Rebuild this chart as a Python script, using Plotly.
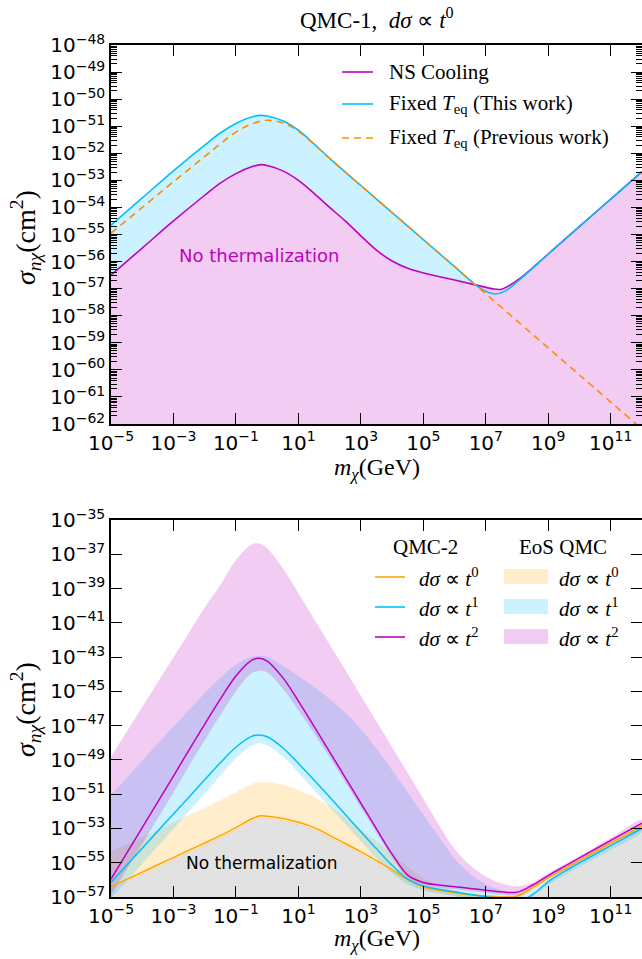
import plotly.graph_objects as go

W, H = 642, 959

# ---------------- Upper panel: QMC-1, dσ ∝ t^0 (log10 m[GeV], log10 σ[cm^2]) ----------------
cool_m = [-5, -4, -3, -2, -1.5, -1, -0.5, -0.2, 0, 0.5, 1, 1.5, 2, 2.5, 3, 3.5, 4, 4.5, 5, 6, 6.7, 7.2, 7.5, 8, 9, 10, 11, 12]
cool_s = [-56.5, -55.5, -54.5, -53.55, -53.1, -52.75, -52.5, -52.42, -52.45, -52.65, -53.0, -53.48, -54.0, -54.5,
          -55.05, -55.58, -55.98, -56.25, -56.42, -56.68, -56.87, -57.0, -57.02, -56.7, -55.72, -54.7, -53.69, -52.68]

teq_m = [-5, -4, -3, -2, -1.5, -1, -0.5, -0.2, 0, 0.5, 1, 1.5, 2, 3, 4, 5, 6, 6.7, 7, 7.3, 7.6, 8, 9, 10, 11, 12]
teq_s = [-54.65, -53.65, -52.65, -51.7, -51.25, -50.9, -50.66, -50.6, -50.62, -50.8, -51.15, -51.65, -52.19, -53.19,
         -54.19, -55.19, -56.19, -56.89, -57.1, -57.2, -57.1, -56.75, -55.72, -54.7, -53.69, -52.68]

prev_m = [-5, -4, -3, -2, -1.5, -1, -0.5, 0, 0.5, 1, 1.5, 2, 4, 6, 8, 10, 12.3]
prev_s = [-54.95, -54.0, -53.05, -52.12, -51.65, -51.22, -50.92, -50.78, -50.88, -51.18, -51.67, -52.19, -54.19,
          -56.19, -58.19, -60.19, -62.49]

# ---------------- Lower panel (log10 m grid shared by lines and bands) ----------------
low_m = [-5, -4.5, -4, -3.5, -3, -2.5, -2, -1.5, -1, -0.5, -0.25, 0, 0.5, 1, 1.5, 2, 2.5, 3, 3.5, 4, 4.5, 5,
         5.5, 6, 6.5, 7, 7.5, 8, 8.5, 9, 9.5, 10, 11, 12]

# QMC-2 lines
q0_s = [-56.39, -55.97, -55.55, -55.12, -54.7, -54.27, -53.85, -53.42, -52.95, -52.45, -52.27, -52.29, -52.42,
        -52.64, -52.95, -53.4, -53.88, -54.37, -54.88, -55.42, -56.0, -56.42, -56.62, -56.76, -56.87, -56.95,
        -57.0, -56.95, -56.45, -55.88, -55.37, -54.86, -53.85, -52.85]
q1_s = [-56.15, -55.15, -54.15, -53.15, -52.15, -51.16, -50.16, -49.17, -48.26, -47.63, -47.54, -47.65, -48.29,
        -49.21, -50.17, -51.17, -52.18, -53.19, -54.19, -55.15, -55.95, -56.35, -56.55, -56.7, -56.85, -56.98,
        -57.15, -57.3, -56.85, -56.1, -55.52, -55.0, -54.0, -52.99]
q2_s = [-55.95, -54.45, -52.95, -51.45, -49.95, -48.41, -46.92, -45.45, -44.1, -43.19, -43.07, -43.23, -44.2,
        -45.57, -47.04, -48.53, -50.03, -51.53, -53.03, -54.5, -55.72, -56.15, -56.3, -56.4, -56.5, -56.6,
        -56.7, -56.72, -56.3, -55.75, -55.23, -54.72, -53.7, -52.69]

# EoS QMC bands: upper and lower edges
b0_up = [-54.35, -53.92, -53.5, -53.07, -52.65, -52.22, -51.8, -51.35, -50.88, -50.42, -50.3, -50.3, -50.45,
         -50.75, -51.15, -51.7, -52.35, -53.05, -53.75, -54.5, -55.25, -55.9, -56.35, -56.6, -56.78, -56.9,
         -56.95, -56.9, -56.35, -55.8, -55.3, -54.8, -53.75, -52.75]
b0_lo = [-56.55, -56.12, -55.7, -55.27, -54.85, -54.42, -54.0, -53.57, -53.1, -52.6, -52.42, -52.44, -52.57,
         -52.79, -53.1, -53.55, -54.03, -54.52, -55.03, -55.57, -56.15, -56.57, -56.77, -56.91, -57.02, -57.1,
         -57.15, -57.1, -56.6, -56.03, -55.52, -55.01, -54.0, -53.0]
b1_up = [-51.04, -50.04, -49.04, -48.04, -47.05, -46.07, -45.1, -44.2, -43.44, -43.0, -42.92, -43.0, -43.5,
         -44.1, -44.75, -45.45, -46.25, -47.2, -48.35, -49.6, -50.9, -52.2, -53.5, -54.75, -55.65, -56.25, -56.6,
         -56.8, -56.55, -56.0, -55.5, -55.0, -54.0, -53.0]
b1_lo = [-57.1, -56.08, -55.06, -54.04, -53.02, -52.0, -50.98, -49.92, -48.9, -48.17, -48.03, -48.15, -48.8,
         -49.75, -50.75, -51.75, -52.75, -53.75, -54.75, -55.6, -56.25, -56.6, -56.8, -56.95, -57.1, -57.2,
         -57.3, -57.4, -56.95, -56.3, -55.75, -55.25, -54.25, -53.2]
b2_up = [-48.81, -47.36, -45.91, -44.46, -43.01, -41.56, -40.11, -38.8, -37.34, -36.44, -36.37, -36.65, -37.82,
         -39.27, -40.77, -42.26, -43.76, -45.26, -46.76, -48.26, -49.76, -51.26, -52.8, -54.2, -55.15, -55.8,
         -56.2, -56.38, -56.15, -55.6, -55.1, -54.6, -53.55, -52.5]
b2_lo = [-56.9, -55.4, -53.9, -52.4, -50.9, -49.35, -47.85, -46.4, -45.0, -43.95, -43.79, -43.9, -44.85,
         -46.1, -47.45, -48.85, -50.3, -51.78, -53.25, -54.7, -55.9, -56.3, -56.45, -56.55, -56.65, -56.75,
         -56.85, -56.9, -56.5, -55.95, -55.45, -54.95, -53.95, -52.95]

# upper edge of the region with no thermalization
nt_s = [-56.5, -56.07, -55.65, -55.22, -54.8, -54.37, -53.95, -53.52, -53.05, -52.55, -52.37, -52.39, -52.52,
        -52.74, -53.05, -53.5, -53.98, -54.47, -54.98, -55.52, -56.1, -56.52, -56.72, -56.86, -56.97, -57.05,
        -57.15, -57.3, -56.85, -56.1, -55.52, -55.0, -54.0, -52.99]

X_TICKS = list(range(-5, 12, 2))
Y1_TICKS = list(range(-62, -47))
Y2_TICKS = list(range(-57, -34, 2))

MAG = "#bf00bf"
CYA = "#00bfff"
ORA = "#ffa500"
DORA = "#ff8c00"


def lin(v):
    return [10.0 ** a for a in v]


def sup(k):
    s = str(k).replace("-", "\u2212")
    return f"10<sup>{s}</sup>"


def px(x):
    return x / W


def py(y):
    return 1 - y / H


def under(m, s, floor=-80):
    return lin(m + [m[-1], m[0]]), lin(s + [floor, floor])


def band(m, su, sl):
    return lin(m + m[::-1]), lin(su + sl[::-1])


fig = go.Figure()

# ---- upper panel fills ----
x, y = under(teq_m, teq_s)
fig.add_trace(go.Scatter(x=x, y=y, fill="toself", fillcolor="#ccf2ff", mode="none", xaxis="x", yaxis="y",
                         hoverinfo="skip", showlegend=False))
x, y = under(cool_m, cool_s)
fig.add_trace(go.Scatter(x=x, y=y, fill="toself", fillcolor="#f2ccf2", mode="none", xaxis="x", yaxis="y",
                         hoverinfo="skip", showlegend=False))

# ---- upper panel lines ----
fig.add_trace(go.Scatter(x=lin(cool_m), y=lin(cool_s), mode="lines", line=dict(color=MAG, width=1.6),
                         line_shape="spline", xaxis="x", yaxis="y", showlegend=False))
fig.add_trace(go.Scatter(x=lin(teq_m), y=lin(teq_s), mode="lines", line=dict(color=CYA, width=1.6),
                         line_shape="spline", xaxis="x", yaxis="y", showlegend=False))
fig.add_trace(go.Scatter(x=lin(prev_m), y=lin(prev_s), mode="lines",
                         line=dict(color=DORA, width=1.6, dash="7px,5px"),
                         line_shape="spline", xaxis="x", yaxis="y", showlegend=False))

# ---- lower panel fills ----
x, y = under(low_m, nt_s)
fig.add_trace(go.Scatter(x=x, y=y, fill="toself", fillcolor="#e2e2e2", mode="none", xaxis="x2", yaxis="y2",
                         hoverinfo="skip", showlegend=False))
for (su, sl, col) in [
    (b0_up, b0_lo, "rgba(255,165,0,0.2)"),
    (b1_up, b1_lo, "rgba(0,191,255,0.2)"),
    (b2_up, b2_lo, "rgba(191,0,191,0.2)"),
]:
    x, y = band(low_m, su, sl)
    fig.add_trace(go.Scatter(x=x, y=y, fill="toself", fillcolor=col, mode="none", line_shape="spline",
                             xaxis="x2", yaxis="y2", hoverinfo="skip", showlegend=False))

# ---- lower panel lines ----
for (s, col) in [(q0_s, ORA), (q1_s, CYA), (q2_s, MAG)]:
    fig.add_trace(go.Scatter(x=lin(low_m), y=lin(s), mode="lines", line=dict(color=col, width=1.5),
                             line_shape="spline", xaxis="x2", yaxis="y2", showlegend=False))

tickfont = dict(family="DejaVu Sans", size=20, color="black")
axis_common = dict(showline=True, linecolor="black", linewidth=1.5, mirror="ticks", ticks="inside",
                   tickcolor="black", tickwidth=1.3, ticklen=11, showgrid=False, zeroline=False,
                   tickfont=tickfont, tickmode="array")

xt = dict(type="log", range=[-5, 12], tickvals=lin(X_TICKS), ticktext=[sup(k) for k in X_TICKS],
          domain=[px(111), 1.0], **axis_common)

minor_vals = [d * 10.0 ** k for k in range(-62, -48) for d in range(2, 10)]

fig.update_layout(
    width=W, height=H, template="none",
    margin=dict(l=0, r=0, t=0, b=0),
    paper_bgcolor="white", plot_bgcolor="white",
    xaxis=dict(anchor="y", **xt),
    yaxis=dict(type="log", range=[-62, -48], domain=[py(424), py(45)], anchor="x",
               tickvals=lin(Y1_TICKS), ticktext=[sup(k) for k in Y1_TICKS],
               minor=dict(tickmode="array", tickvals=minor_vals, ticks="inside", ticklen=6,
                          tickwidth=1, tickcolor="black", showgrid=False),
               **axis_common),
    xaxis2=dict(anchor="y2", **xt),
    yaxis2=dict(type="log", range=[-57, -35], domain=[py(897), py(520)], anchor="x2",
                tickvals=lin(Y2_TICKS), ticktext=[sup(k) for k in Y2_TICKS], **axis_common),
    showlegend=False,
)

serif = "Liberation Serif"
ann = []


def text(x, y, t, size=21, color="black", family=serif, xanchor="center", angle=0):
    ann.append(dict(x=px(x), y=py(y), xref="paper", yref="paper", text=t, showarrow=False,
                    font=dict(family=family, size=size, color=color), xanchor=xanchor, yanchor="middle",
                    textangle=angle))


shapes = []


def seg(x0, x1, y, color, dash=None):
    shapes.append(dict(type="line", xref="paper", yref="paper", x0=px(x0), x1=px(x1), y0=py(y), y1=py(y),
                       line=dict(color=color, width=1.6, dash=dash)))


# titles
text(377, 19, "QMC-1,  <i>dσ</i> ∝ <i>t</i><sup>0</sup>", size=23)
ylab = "<i>σ</i><sub><i>nχ</i></sub>(cm<sup>2</sup>)"
xlab = "<i>m</i><sub><i>χ</i></sub>(GeV)"
text(25, 238, ylab, size=28, angle=-90)
text(25, 710, ylab, size=28, angle=-90)
text(377, 469, xlab, size=24)
text(377, 940, xlab, size=24)

# upper legend
seg(342, 373, 72, MAG)
seg(342, 373, 104, CYA)
seg(342, 373, 138, DORA, dash="7px,5px")
text(387, 72, "NS Cooling", xanchor="left")
text(387, 104, "Fixed <i>T</i><sub>eq</sub> (This work)", xanchor="left")
text(387, 138, "Fixed <i>T</i><sub>eq</sub> (Previous work)", xanchor="left")

# region labels
text(259, 255, "No thermalization", size=18, color=MAG, family="DejaVu Sans")
text(261, 863, "No thermalization", size=17, color="black", family="DejaVu Sans")

# lower legend
text(425, 547, "QMC-2")
text(563, 547, "EoS QMC")
rows = [577, 607, 637]
lcols = [ORA, CYA, MAG]
fcols = ["rgba(255,165,0,0.2)", "rgba(0,191,255,0.2)", "rgba(191,0,191,0.2)"]
for i, (yy, lc, fc) in enumerate(zip(rows, lcols, fcols)):
    seg(375, 405, yy, lc)
    lab = f"<i>dσ</i> ∝ <i>t</i><sup>{i}</sup>"
    text(417, yy, lab, xanchor="left")
    shapes.append(dict(type="rect", xref="paper", yref="paper", x0=px(504), x1=px(548), y0=py(yy - 8),
                       y1=py(yy + 7), fillcolor=fc, line=dict(width=0)))
    text(557, yy, lab, xanchor="left")

fig.update_layout(annotations=ann, shapes=shapes)
fig.write_html("out.html")
